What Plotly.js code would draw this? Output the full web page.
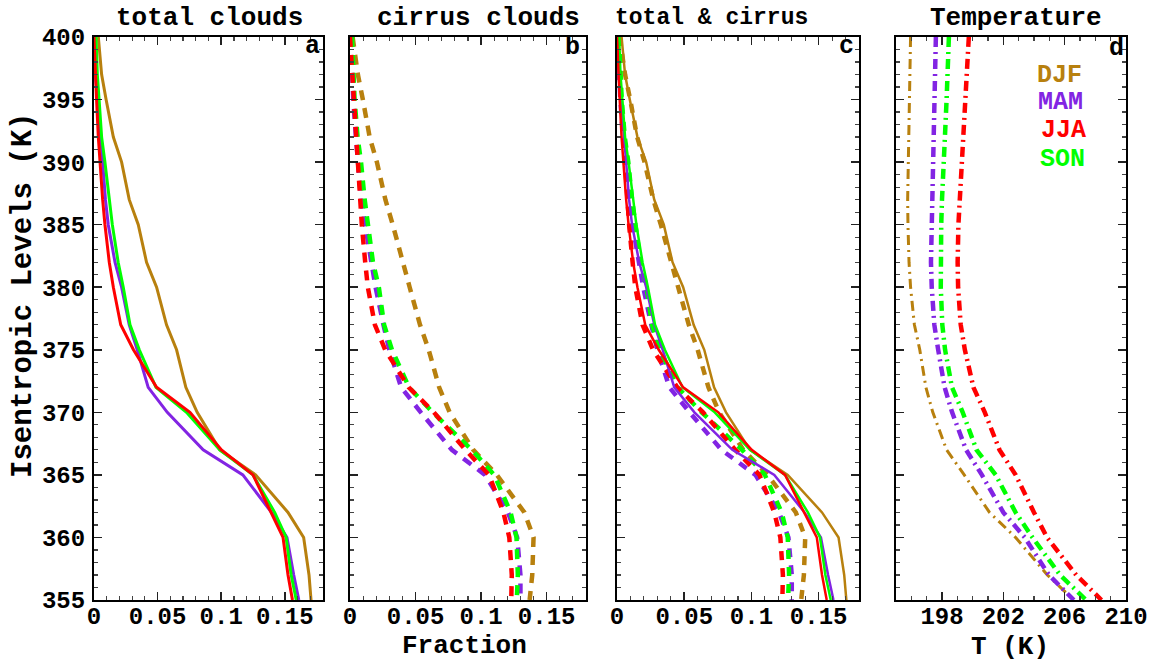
<!DOCTYPE html>
<html>
<head>
<meta charset="utf-8">
<script src="https://cdn.plot.ly/plotly-3.0.1.min.js"></script>
<style>html,body{margin:0;padding:0;background:#fff;}#chart{width:1154px;height:661px;}</style>
</head>
<body>
<div id="chart"></div>
<script>
// Isentropic levels (K)
const levels = [400,397,395,392,390,387,385,382,380,377,375,372,370,367,365,362,360,357,355];
const seasons = ["DJF","MAM","JJA","SON"];
const seasonColors = ["#b8800e","#8224e3","#ff0000","#00ff00"];

// total cloud fraction
const totalDJF = [0.0034,0.006,0.0095,0.0152,0.0217,0.0277,0.0348,0.0413,0.0492,0.057,0.0649,0.0722,0.0811,0.0989,0.127,0.1525,0.1648,0.169,0.1706];
const totalMAM = [0.0,0.001,0.003,0.005,0.0068,0.009,0.0112,0.0165,0.0217,0.0277,0.034,0.0426,0.0576,0.0858,0.117,0.1395,0.1517,0.157,0.161];
const totalJJA = [0.0,0.001,0.002,0.0034,0.0047,0.0068,0.0086,0.012,0.0152,0.021,0.031,0.0492,0.0754,0.1002,0.125,0.1395,0.1486,0.1525,0.156];
const totalSON = [0.0016,0.0026,0.004,0.006,0.0086,0.012,0.0144,0.019,0.023,0.0283,0.0356,0.0487,0.0727,0.0989,0.125,0.142,0.151,0.155,0.159];

// cirrus cloud fraction
const cirrusDJF = [0.002,0.006,0.0098,0.015,0.0205,0.027,0.0326,0.040,0.0455,0.0534,0.060,0.068,0.076,0.094,0.112,0.133,0.140,0.139,0.137];
const cirrusMAM = [0.0005,0.0015,0.0025,0.0045,0.0064,0.0085,0.0115,0.016,0.0195,0.0255,0.030,0.039,0.054,0.0777,0.103,0.1205,0.1275,0.130,0.130];
const cirrusJJA = [0.0,0.0018,0.0028,0.0044,0.0054,0.0072,0.009,0.0116,0.0136,0.019,0.0268,0.0448,0.064,0.088,0.106,0.117,0.1215,0.1234,0.123];
const cirrusSON = [0.0015,0.0025,0.0035,0.0058,0.0084,0.0112,0.014,0.0175,0.022,0.026,0.032,0.045,0.063,0.093,0.110,0.1225,0.127,0.128,0.1272];

// temperature (K)
const tempDJF = [195.95,195.9,195.87,195.82,195.78,195.76,195.78,195.85,195.95,196.2,196.55,196.95,197.4,198.3,199.45,201.1,202.8,204.87,206.6];
const tempMAM = [197.6,197.55,197.48,197.42,197.37,197.33,197.29,197.28,197.33,197.5,197.75,198.17,198.66,199.57,200.6,202.0,203.4,204.97,206.6];
const tempJJA = [199.75,199.62,199.52,199.38,199.28,199.15,199.07,199.02,199.05,199.22,199.49,200.05,200.79,201.75,202.8,204.0,204.85,206.75,208.4];
const tempSON = [198.45,198.38,198.3,198.19,198.1,198.0,197.95,197.9,197.92,198.02,198.2,198.65,199.35,200.25,201.5,202.8,203.9,205.7,207.4];

const panelTitles = ["total clouds","cirrus clouds","total & cirrus","Temperature"];
const panelLetters = ["a","b","c","d"];
const fracTicks = [0,0.05,0.1,0.15];
const tempTicks = [198,202,206,210];
const levelTicks = [355,360,365,370,375,380,385,390,395,400];

const totals = [totalDJF,totalMAM,totalJJA,totalSON];
const cirrus = [cirrusDJF,cirrusMAM,cirrusJJA,cirrusSON];
const temps = [tempDJF,tempMAM,tempJJA,tempSON];

const W = 1154, H = 661;
const px = v => v / W;
const py = v => 1 - v / H;
const FONT = "Liberation Mono, Courier New, monospace";

// panel pixel extents
const panelX = [[94,323],[350,586],[617,859],[896,1126]];
const plotTop = 37, plotBot = 600;

const order = [0,1,3,2];
const traces = [];
order.forEach(i => {
  traces.push({x: totals[i], y: levels, xaxis:'x', yaxis:'y', mode:'lines', name: seasons[i],
    line:{color: seasonColors[i], width:3}, showlegend:false});
});
order.forEach(i => {
  traces.push({x: cirrus[i], y: levels, xaxis:'x2', yaxis:'y2', mode:'lines', name: seasons[i],
    line:{color: seasonColors[i], width:4.5, dash:'10px,8px'}, showlegend:false});
});
order.forEach(i => {
  traces.push({x: cirrus[i], y: levels, xaxis:'x3', yaxis:'y3', mode:'lines', name: seasons[i],
    line:{color: seasonColors[i], width:4.5, dash:'9px,8px'}, showlegend:false});
});
order.forEach(i => {
  traces.push({x: totals[i], y: levels, xaxis:'x3', yaxis:'y3', mode:'lines', name: seasons[i],
    line:{color: seasonColors[i], width:2.5}, showlegend:false});
});
order.forEach(i => {
  traces.push({x: temps[i], y: levels, xaxis:'x4', yaxis:'y4', mode:'lines', name: seasons[i],
    line:{color: seasonColors[i], width: i===0 ? 3 : 4.5, dash:'10px,5px,2px,5px'}, showlegend:false});
});

const tickFont = {family: FONT, size: 24, color:'#000', weight: 700};

function xAxis(k, isTemp) {
  return {
    domain:[px(panelX[k][0]), px(panelX[k][1])],
    anchor: k===0 ? 'y' : 'y'+(k+1),
    range: isTemp ? [195,210] : [0,0.18],
    tickmode:'array',
    tickvals: isTemp ? tempTicks : fracTicks,
    ticktext: isTemp ? tempTicks.map(String) : fracTicks.map(v => String(v)),
    ticks:'inside', ticklen:8, tickwidth:1.5, tickcolor:'#222',
    minor:{ticks:'inside', ticklen:4, tickwidth:1.2, tickcolor:'#444', dtick: isTemp ? 1 : 0.01, tick0: 0},
    showline:true, linecolor:'#000', linewidth:2, mirror:'allticks',
    showgrid:false, zeroline:false,
    tickfont: tickFont, ticklabelstandoff: -7,
    fixedrange:true
  };
}
function yAxis(k) {
  return {
    domain:[py(plotBot), py(plotTop)],
    anchor: k===0 ? 'x' : 'x'+(k+1),
    range:[355,400],
    tickmode:'array', tickvals: levelTicks, ticktext: levelTicks.map(String),
    showticklabels: k===0,
    ticks:'inside', ticklen:8, tickwidth:1.5, tickcolor:'#222',
    minor:{ticks:'inside', ticklen:4, tickwidth:1.2, tickcolor:'#444', dtick:1, tick0:355},
    showline:true, linecolor:'#000', linewidth:2, mirror:'allticks',
    showgrid:false, zeroline:false,
    tickfont: tickFont, ticklabelstandoff: 2,
    fixedrange:true
  };
}

const annotations = [];
const titlePos = [[209,18],[478,18],[711,18],[1016,18]];
const titleSizes = [26,26,23,26];
panelTitles.forEach((t,k) => annotations.push({
  text: t, xref:'paper', yref:'paper', x: px(titlePos[k][0]), y: py(titlePos[k][1]),
  xanchor:'center', yanchor:'middle', showarrow:false,
  font:{family: FONT, size: titleSizes[k], color:'#000', weight:700}
}));
const letterPos = [[312,46],[572,47],[846,46],[1116,48]];
panelLetters.forEach((t,k) => annotations.push({
  text: t, xref:'paper', yref:'paper', x: px(letterPos[k][0]), y: py(letterPos[k][1]),
  xanchor:'center', yanchor:'middle', showarrow:false,
  font:{family: FONT, size: 25, color:'#000', weight:700}
}));
const legendPos = [[1059,75],[1060,103],[1063,131],[1062,159]];
seasons.forEach((s,i) => annotations.push({
  text: s, xref:'paper', yref:'paper', x: px(legendPos[i][0]), y: py(legendPos[i][1]),
  xanchor:'center', yanchor:'middle', showarrow:false,
  font:{family: FONT, size: 25, color: seasonColors[i], weight:700}
}));
annotations.push({text:'Fraction', xref:'paper', yref:'paper', x: px(464), y: py(646),
  xanchor:'center', yanchor:'middle', showarrow:false, font:{family: FONT, size:26, color:'#000', weight:700}});
annotations.push({text:'T (K)', xref:'paper', yref:'paper', x: px(1010), y: py(647),
  xanchor:'center', yanchor:'middle', showarrow:false, font:{family: FONT, size:26, color:'#000', weight:700}});
annotations.push({text:'Isentropic Levels (K)', xref:'paper', yref:'paper', x: px(24), y: py(296),
  xanchor:'center', yanchor:'middle', showarrow:false, textangle:-90,
  font:{family: FONT, size:29, color:'#000', weight:700}});

const layout = {
  width: W, height: H,
  margin:{l:0,r:0,t:0,b:0},
  paper_bgcolor:'#fff', plot_bgcolor:'#fff',
  showlegend:false,
  xaxis: xAxis(0,false), xaxis2: xAxis(1,false), xaxis3: xAxis(2,false), xaxis4: xAxis(3,true),
  yaxis: yAxis(0), yaxis2: yAxis(1), yaxis3: yAxis(2), yaxis4: yAxis(3),
  annotations: annotations
};

Plotly.newPlot('chart', traces, layout, {staticPlot:true, displayModeBar:false});
</script>
</body>
</html>
